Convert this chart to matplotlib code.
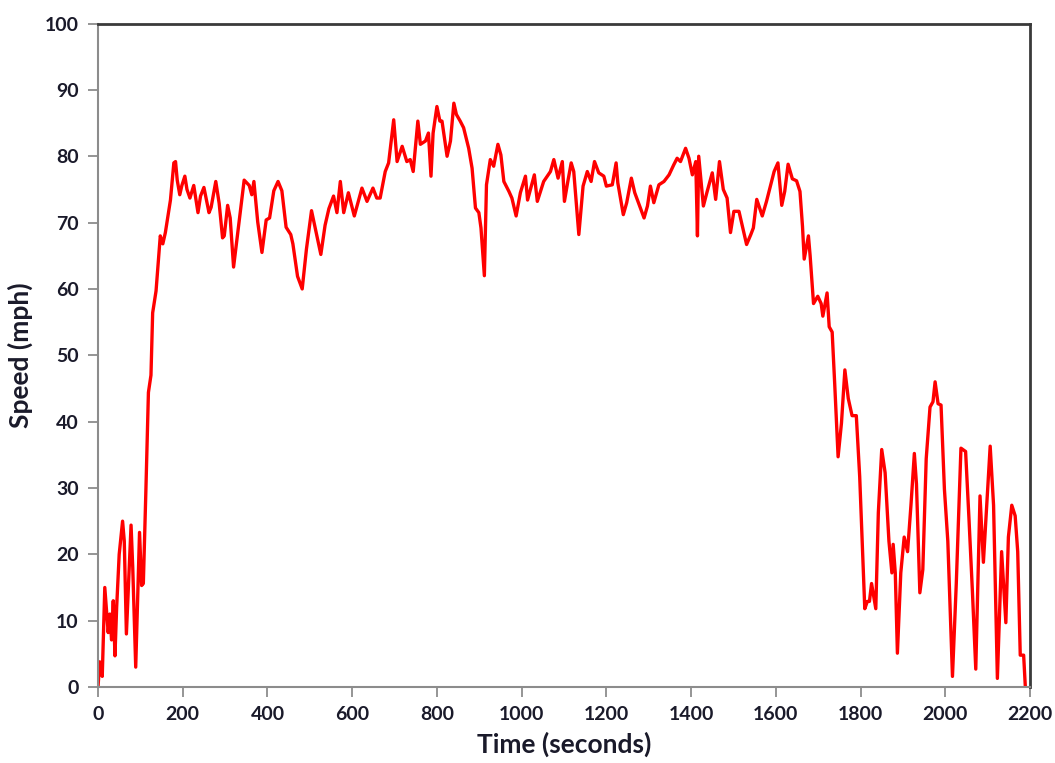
import matplotlib
matplotlib.use("Agg")
import matplotlib.pyplot as plt

time_s = [0, 4, 10, 16, 24, 28, 32, 36, 40, 44, 50, 58, 62, 67, 78, 82, 89, 98, 103, 107,
          113, 119, 125, 129, 137, 147, 153, 159, 171, 179, 183, 187, 193, 198, 205, 210, 217,
          226, 236, 242, 250, 262, 267, 278, 286, 294, 298, 306, 312, 320, 329, 345, 357, 363,
          368, 377, 387, 397, 405, 415, 425, 434, 444, 455, 460, 471, 482, 492, 504, 514, 526,
          536, 545, 556, 564, 572, 580, 591, 605, 623, 635, 649, 658, 666, 678, 686, 698, 706,
          718, 729, 737, 744, 755, 761, 773, 780, 786, 791, 800, 807, 812, 824, 832, 840, 846,
          855, 863, 875, 883, 891, 899, 904, 912, 917, 926, 934, 944, 951, 958, 970, 977, 987,
          997, 1009, 1014, 1030, 1037, 1052, 1068, 1076, 1086, 1096, 1101, 1109, 1117, 1123,
          1135, 1145, 1155, 1164, 1172, 1182, 1194, 1200, 1214, 1223, 1227, 1240, 1248, 1259,
          1267, 1289, 1297, 1304, 1312, 1324, 1336, 1348, 1359, 1367, 1375, 1387, 1395, 1403,
          1411, 1415, 1418, 1429, 1438, 1450, 1458, 1467, 1476, 1485, 1493, 1501, 1513, 1531,
          1541, 1547, 1555, 1568, 1578, 1588, 1596, 1605, 1614, 1621, 1629, 1639, 1649, 1657,
          1663, 1667, 1677, 1681, 1689, 1699, 1707, 1711, 1721, 1726, 1733, 1739, 1747, 1755,
          1763, 1771, 1780, 1790, 1798, 1810, 1816, 1821, 1826, 1836, 1842, 1850, 1858, 1867,
          1874, 1877, 1882, 1887, 1895, 1903, 1911, 1919, 1927, 1932, 1940, 1947, 1955, 1964,
          1971, 1976, 1983, 1990, 1998, 2006, 2017, 2026, 2037, 2048, 2056, 2064, 2072, 2082,
          2090, 2096, 2106, 2114, 2123, 2133, 2143, 2149, 2157, 2165, 2171, 2177, 2185, 2189]

speed_mph = [0, 3.8, 1.6, 15, 8.2, 11, 7.1, 13, 4.7, 12, 20, 25, 22, 8, 24.4, 18, 3, 23.3, 15.3, 15.6,
             29.6, 44.4, 47, 56.4, 59.7, 68, 66.8, 68.5, 73.4, 79, 79.2, 76.4, 74.2, 75.6, 77, 75, 73.7,
             75.6, 71.5, 74, 75.3, 71.5, 72.3, 76.2, 72.9, 67.7, 68, 72.6, 70.7, 63.3, 68, 76.4, 75.6, 74.2,
             76.2, 70.1, 65.5, 70.4, 70.7, 74.8, 76.2, 74.8, 69.3, 68.2, 66.8, 61.9, 60, 66, 71.8, 68.8, 65.2,
             69.6, 72.1, 74, 71.5, 76.2, 71.5, 74.5, 71, 75.2, 73.2, 75.2, 73.7, 73.7, 77.7, 79, 85.5, 79.2,
             81.5, 79.2, 79.5, 77.7, 85.3, 81.8, 82.3, 83.5, 77, 83.5, 87.5, 85.3, 85.3, 80, 82.3, 88, 86.3,
             85.3, 84.3, 81.2, 78.2, 72.2, 71.5, 69.2, 62, 75.7, 79.5, 78.5, 81.8, 80.2, 76.2, 74.7, 73.7, 71,
             74.5, 77, 73.4, 77.2, 73.2, 76.2, 77.7, 79.5, 76.7, 79.2, 73.2, 76.2, 79, 77.7,
             68.2, 75.5, 77.7, 76.2, 79.2, 77.5, 77, 75.5, 75.7, 79, 76, 71.2, 73, 76.7,
             74.5, 70.7, 72.5, 75.5, 73, 75.7, 76.2, 77.2, 78.7, 79.7, 79.2, 81.2, 79.7, 77.2,
             79.2, 68, 80, 72.5, 74.7, 77.5, 73.5, 79.2, 75, 73.7, 68.5, 71.7, 71.7, 66.7,
             68.2, 69.2, 73.5, 71, 73.2, 75.7, 77.7, 79, 72.6, 74.7, 78.8, 76.6, 76.3, 74.7,
             69.4, 64.5, 68, 65, 57.8, 58.9, 57.8, 55.9, 59.4, 54.3, 53.5, 45.7, 34.7, 39.8,
             47.8, 43.5, 40.9, 40.9, 31.7, 11.8, 12.9, 12.9, 15.6, 11.8, 26.3, 35.8, 32.3, 22,
             17.2, 21.5, 17.2, 5.1, 17.2, 22.6, 20.4, 27.4, 35.2, 30.6, 14.2, 17.7, 34.4, 42.2,
             43, 46, 42.7, 42.5, 29.8, 22, 1.6, 15.6, 36, 35.5, 25.3, 14.5, 2.7, 28.8,
             18.8, 25.3, 36.3, 27.4, 1.3, 20.4, 9.7, 22.6, 27.4, 25.8, 20.4, 4.8, 4.8, 0]

x_ticks = [0, 200, 400, 600, 800, 1000, 1200, 1400, 1600, 1800, 2000, 2200]
y_ticks = [0, 10, 20, 30, 40, 50, 60, 70, 80, 90, 100]

plt.rcParams['font.family'] = ['Lato', 'DejaVu Sans']

fig = plt.figure(figsize=(10.55, 7.63), dpi=100)
ax = fig.add_axes([0.0929, 0.0996, 0.8834, 0.8695])

ax.plot(time_s, speed_mph, color='#ff0000', linewidth=2.4, solid_joinstyle='round')

ax.set_xlim(0, 2200)
ax.set_ylim(0, 100)
ax.set_xticks(x_ticks)
ax.set_yticks(y_ticks)

for side in ['left', 'bottom']:
    ax.spines[side].set_color('#8c8c8c')
    ax.spines[side].set_linewidth(1.5)
for side in ['top', 'right']:
    ax.spines[side].set_color('#3a3a3a')
    ax.spines[side].set_linewidth(2.0)

ax.tick_params(axis='both', direction='out', length=7, width=1.3, color='#8c8c8c',
               labelsize=14, labelcolor='#1a1a2a', pad=7)
for lbl in ax.get_xticklabels() + ax.get_yticklabels():
    lbl.set_fontweight('bold')

ax.set_xlabel('Time (seconds)', fontsize=19, fontweight='bold', color='#1a1a2a', labelpad=6)
ax.set_ylabel('Speed (mph)', fontsize=19, fontweight='bold', color='#1a1a2a', labelpad=8)

fig.savefig('out.png', dpi=100, facecolor='white')
